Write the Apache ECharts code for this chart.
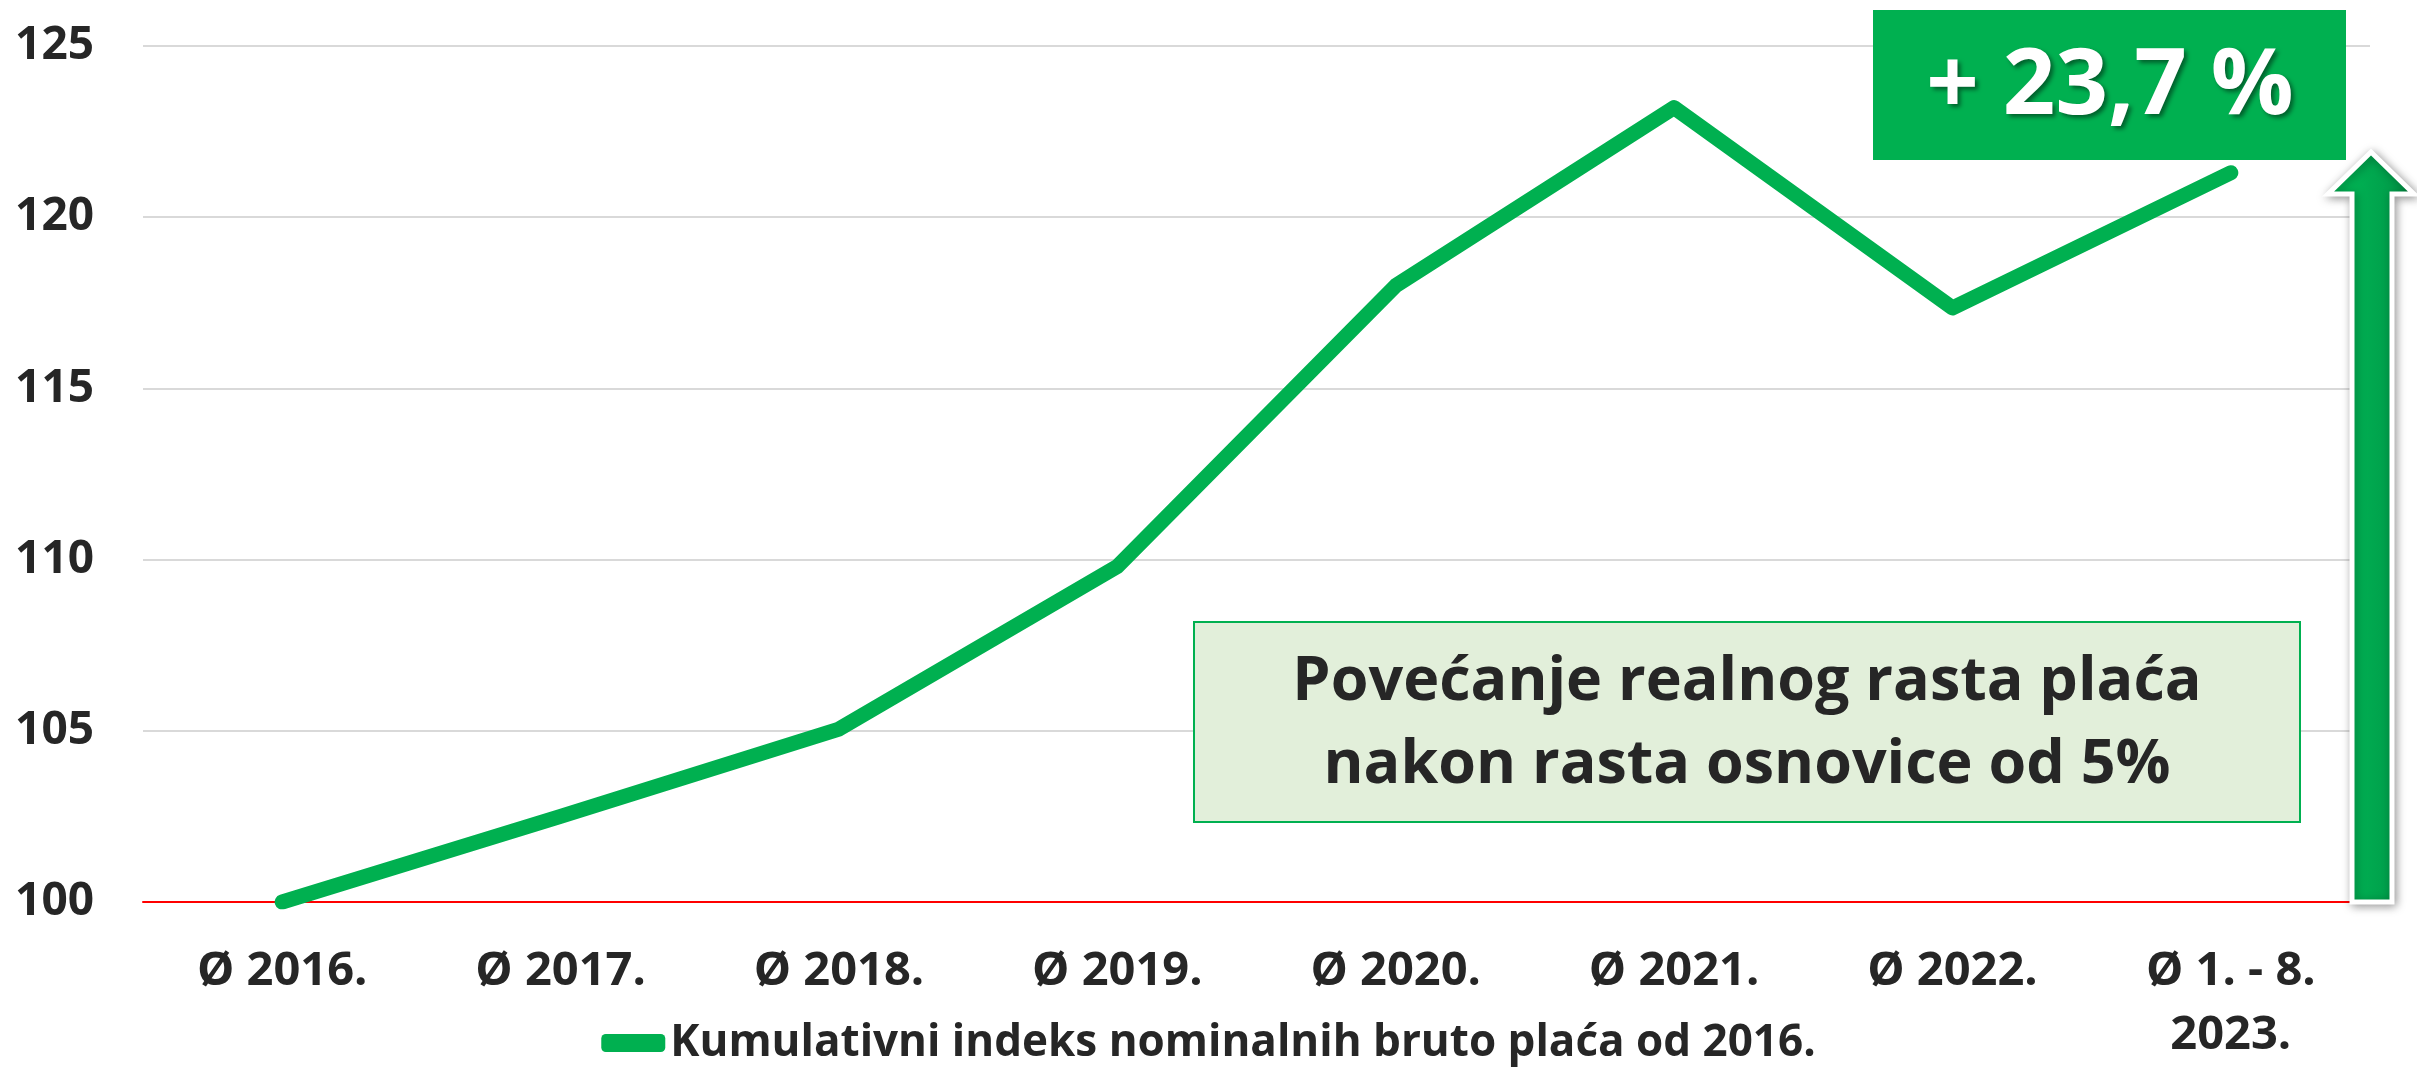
<!DOCTYPE html>
<html>
<head>
<meta charset="utf-8">
<script src="https://cdn.jsdelivr.net/npm/echarts@6/dist/echarts.min.js"></script>
<style>
html, body { margin: 0; padding: 0; background: #fff; }
#main { width: 2417px; height: 1074px; }
</style>
</head>
<body>
<div id="main"></div>
<script>
// podaci
var categories = ['Ø 2016.', 'Ø 2017.', 'Ø 2018.', 'Ø 2019.', 'Ø 2020.', 'Ø 2021.', 'Ø 2022.', 'Ø 1. - 8.\n2023.'];
var indexValues = [100, 102.5, 105.05, 109.8, 118.0, 123.2, 117.35, 121.3];
var yMin = 100, yMax = 125, yStep = 5;
var seriesName = 'Kumulativni indeks nominalnih bruto plaća od 2016.';
var badgeText = '+ 23,7 %';
var noteText = 'Povećanje realnog rasta plaća\nnakon rasta osnovice od 5%';

var FONT = '"Open Sans", sans-serif';
var GREEN = '#00B050';
var TXT = '#262626';

var chart = echarts.init(document.getElementById('main'));

var option = {
	backgroundColor: '#fff',
	animation: false,
	grid: {
		left: 143,
		right: 47,
		top: 46,
		bottom: 172
	},
	legend: {
		bottom: 4,
		left: 'center',
		itemWidth: 64,
		itemHeight: 18,
		icon: 'roundRect',
		itemGap: 10,
		textStyle: {
			color: TXT,
			fontFamily: FONT,
			fontWeight: 'bold',
			fontSize: 44
		},
		data: [seriesName]
	},
	xAxis: {
		type: 'category',
		data: categories,
		boundaryGap: true,
		axisTick: { show: false },
		axisLine: {
			lineStyle: { color: '#FF0000', width: 2 }
		},
		axisLabel: {
			color: TXT,
			fontFamily: FONT,
			fontWeight: 'bold',
			fontSize: 47,
			lineHeight: 64,
			margin: 38,
			interval: 0
		}
	},
	yAxis: {
		type: 'value',
		min: yMin,
		max: yMax,
		interval: yStep,
		axisLine: { show: false },
		axisTick: { show: false },
		splitLine: {
			lineStyle: { color: '#D9D9D9', width: 2 }
		},
		axisLabel: {
			color: TXT,
			fontFamily: FONT,
			fontWeight: 'bold',
			fontSize: 46,
			margin: 49
		}
	},
	series: [{
		name: seriesName,
		type: 'line',
		data: indexValues,
		symbol: 'none',
		smooth: false,
		lineStyle: {
			color: GREEN,
			width: 15,
			cap: 'round',
			join: 'round'
		},
		itemStyle: { color: GREEN },
		z: 3
	}],
	graphic: [
		// strelica desno
		{
			type: 'polygon',
			z: 10,
			shape: {
				points: [[2371, 152], [2414, 194], [2392, 194], [2392, 902], [2352, 902], [2352, 194], [2328, 194]]
			},
			style: {
				fill: {
					type: 'linear', x: 0, y: 0, x2: 1, y2: 0,
					colorStops: [
						{ offset: 0, color: '#00C35A' },
						{ offset: 0.5, color: '#00A84F' },
						{ offset: 0.85, color: '#009A48' },
						{ offset: 1, color: '#006B30' }
					]
				},
				stroke: '#fff',
				lineWidth: 5,
				shadowBlur: 10,
				shadowColor: 'rgba(0,0,0,0.35)',
				shadowOffsetX: 2,
				shadowOffsetY: 2
			}
		},
		// zeleni okvir s postotkom
		{
			type: 'rect',
			z: 10,
			shape: { x: 1873, y: 10, width: 473, height: 150 },
			style: { fill: GREEN }
		},
		{
			type: 'text',
			z: 11,
			x: 2110,
			y: 88,
			style: {
				text: badgeText,
				fill: '#fff',
				font: 'bold 92px "Open Sans", sans-serif',
				textAlign: 'center',
				textVerticalAlign: 'middle',
				textShadowColor: 'rgba(0,0,0,0.45)',
				textShadowBlur: 4,
				textShadowOffsetX: 3,
				textShadowOffsetY: 3
			}
		},
		// napomena
		{
			type: 'rect',
			z: 10,
			shape: { x: 1194, y: 622, width: 1106, height: 200 },
			style: { fill: '#E2EFDA', stroke: GREEN, lineWidth: 2 }
		},
		{
			type: 'text',
			z: 11,
			x: 1747,
			y: 724,
			style: {
				text: noteText,
				fill: TXT,
				font: 'bold 61px ' + FONT,
				lineHeight: 83,
				textAlign: 'center',
				textVerticalAlign: 'middle'
			}
		}
	]
};

chart.setOption(option);
</script>
</body>
</html>
